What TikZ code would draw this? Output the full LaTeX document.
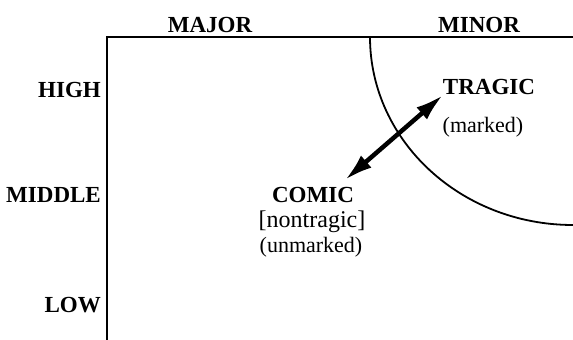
\documentclass[tikz,border=0pt]{standalone}
\usepackage{fontspec}
\setmainfont{Liberation Serif}
\usetikzlibrary{arrows.meta}
\tikzset{
  lbl/.style={font=\fontsize{23}{25}\selectfont\bfseries, inner sep=0pt},
  sub/.style={font=\fontsize{22}{24}\selectfont, inner sep=0pt},
  frame/.style={line width=2.4pt},
  bigarrow/.style={line width=4.5pt, {Latex[length=28pt,width=16pt]}-{Latex[length=28pt,width=16pt]}}
}
\begin{document}
\begin{tikzpicture}[x=1pt,y=-1pt]
\useasboundingbox (0,0) rectangle (573,340);
% frame
\coordinate (bl) at (107,340);
\coordinate (tl) at (107,37);
\coordinate (tr) at (573,37);
\draw[frame] (bl) -- (tl) -- (tr);
% curve
\coordinate (cs) at (370,37);
\draw[line width=1.8pt] (cs) arc[start angle=180, end angle=270, x radius=203, y radius=-188];
% column labels
\node[lbl] (major) at (210,25) {MAJOR};
\node[lbl] (minor) at (479,25) {MINOR};
% row labels
\node[lbl, anchor=east] (high) at (101,90) {HIGH};
\node[lbl, anchor=east] (middle) at (101,195) {MIDDLE};
\node[lbl, anchor=east] (low) at (101,305) {LOW};
% tragic
\node[lbl] (tragic) at (489,87) {TRAGIC};
\node[sub] (marked) at (483,127) {(marked)};
% comic
\node[lbl] (comic) at (313,195) {COMIC};
\node[sub, font=\fontsize{24}{26}\selectfont] (nontragic) at (312,222) {[nontragic]};
\node[sub] (unmarked) at (311,247) {(unmarked)};
% arrow
\coordinate (a1) at (443,95);
\coordinate (a2) at (345,180);
\draw[bigarrow] (a2) -- (a1);
\end{tikzpicture}
\end{document}
